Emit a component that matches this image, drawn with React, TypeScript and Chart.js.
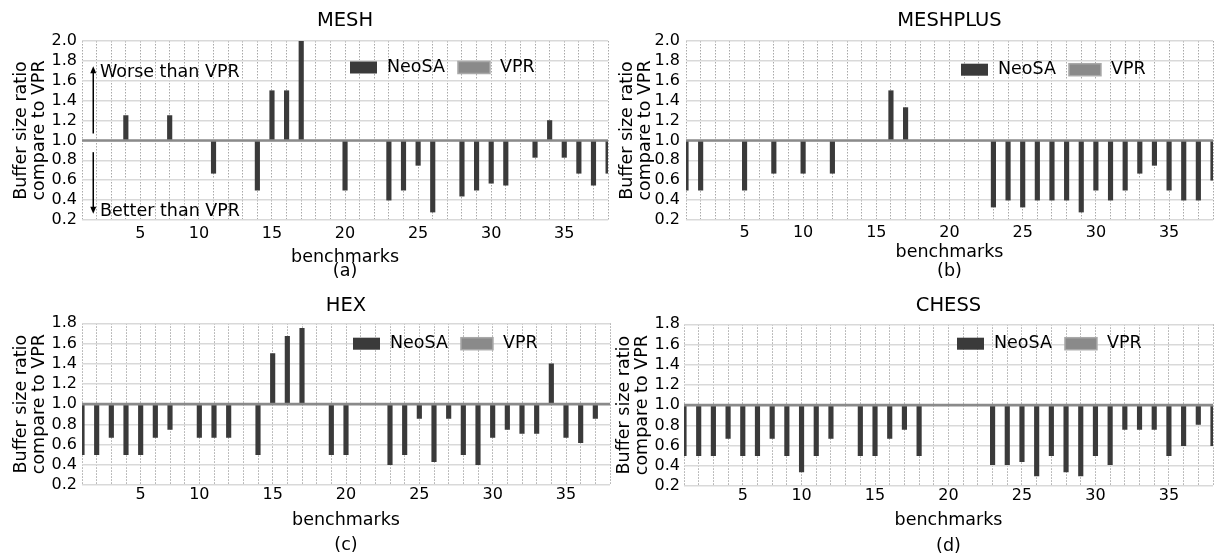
import React, { useEffect, useRef } from 'react';
import { Chart, registerables } from 'chart.js';

Chart.register(...registerables);

const FONT = "'DejaVu Sans', 'Liberation Sans', sans-serif";

// ---------- data ----------
const benchmarkSlots = [2, 3, 4, 5, 6, 7, 8, 9, 10, 11, 12, 13, 14, 15, 16, 17, 18, 19, 20, 21, 22, 23, 24, 25, 26, 27, 28, 29, 30, 31, 32, 33, 34, 35, 36, 37, 38];
const xTickSlots = [6, 10, 15, 20, 25, 30, 35];
const xTickLabels = ['5', '10', '15', '20', '25', '30', '35'];
const yTicksUpper = [0.2, 0.4, 0.6, 0.8, 1.0, 1.2, 1.4, 1.6, 1.8, 2.0];
const yTicksLower = [0.2, 0.4, 0.6, 0.8, 1.0, 1.2, 1.4, 1.6, 1.8];

const vprRatio = [1, 1, 1, 1, 1, 1, 1, 1, 1, 1, 1, 1, 1, 1, 1, 1, 1, 1, 1, 1, 1, 1, 1, 1, 1, 1, 1, 1, 1, 1, 1, 1, 1, 1, 1, 1, 1];

const meshNeoSA = [null, null, null, 1.25, null, null, 1.25, null, null, 0.67, null, null, 0.5, 1.5, 1.5, 2.0, null, null, 0.5, null, null, 0.4, 0.5, 0.75, 0.28, null, 0.44, 0.5, 0.57, 0.55, null, 0.83, 1.2, 0.83, 0.67, 0.55, 0.67];
const meshplusNeoSA = [0.5, 0.5, null, null, 0.5, null, 0.67, null, 0.67, null, 0.67, null, null, null, 1.5, 1.33, null, null, null, null, null, 0.33, 0.4, 0.33, 0.4, 0.4, 0.4, 0.28, 0.5, 0.4, 0.5, 0.67, 0.75, 0.5, 0.4, 0.4, 0.6];
const hexNeoSA = [0.5, 0.5, 0.67, 0.5, 0.5, 0.67, 0.75, null, 0.67, 0.67, 0.67, null, 0.5, 1.5, 1.67, 1.75, null, 0.5, 0.5, null, null, 0.4, 0.5, 0.86, 0.43, 0.86, 0.5, 0.4, 0.67, 0.75, 0.71, 0.71, 1.4, 0.67, 0.62, 0.86, null];
const chessNeoSA = [0.5, 0.5, 0.5, 0.67, 0.5, 0.5, 0.67, 0.5, 0.34, 0.5, 0.67, null, 0.5, 0.5, 0.67, 0.76, 0.5, null, null, null, null, 0.41, 0.41, 0.44, 0.3, 0.5, 0.34, 0.3, 0.5, 0.41, 0.76, 0.76, 0.76, 0.5, 0.6, 0.81, 0.6];

const seriesNames = ['NeoSA', 'VPR'];
const yAxisTitle = ['Buffer size ratio', 'compare to VPR'];
const xAxisTitle = 'benchmarks';

// ---------- layout / style ----------
type Layout = {
  left: number; top: number; width: number; height: number;
  yAxisWidth: number; padRight: number; areaTop: number; areaBottom: number;
  titleY: number; tickY: number; xTitleY: number; subY: number;
  yTitleX: number; yTickPad: number; legendDx: number; legendDy: number;
};

type Note = { x: number; from: number; to: number; textX: number; textY: number; text: string };

type PanelSpec = {
  title: string; tag: string; values: (number | null)[]; yTicks: number[]; layout: Layout; notes: Note[];
};

const panels: PanelSpec[] = [
  {
    title: 'MESH', tag: '(a)', values: meshNeoSA, yTicks: yTicksUpper,
    layout: { left: 0, top: 0, width: 612, height: 290, yAxisWidth: 82, padRight: 2, areaTop: 41, areaBottom: 220, titleY: 20.7, tickY: 233.5, xTitleY: 257.3, subY: 271.6, yTitleX: 21.2, yTickPad: 5, legendDx: 268, legendDy: 26.5 },
    notes: [
      { x: 2.77, from: 1.07, to: 1.747, textX: 3.23, textY: 1.682, text: 'Worse than VPR' },
      { x: 2.77, from: 0.882, to: 0.262, textX: 3.23, textY: 0.283, text: 'Better than VPR' },
    ],
  },
  {
    title: 'MESHPLUS', tag: '(b)', values: meshplusNeoSA, yTicks: yTicksUpper,
    layout: { left: 604, top: 0, width: 613, height: 290, yAxisWidth: 82, padRight: 4, areaTop: 41, areaBottom: 220, titleY: 20.7, tickY: 232.8, xTitleY: 252.3, subY: 271.6, yTitleX: 23.6, yTickPad: 6, legendDx: 275, legendDy: 28.7 },
    notes: [],
  },
  {
    title: 'HEX', tag: '(c)', values: hexNeoSA, yTicks: yTicksLower,
    layout: { left: 0, top: 280, width: 612, height: 278, yAxisWidth: 82, padRight: 2, areaTop: 43.3, areaBottom: 205, titleY: 25.7, tickY: 215.2, xTitleY: 240, subY: 265, yTitleX: 21.2, yTickPad: 5, legendDx: 271, legendDy: 20.4 },
    notes: [],
  },
  {
    title: 'CHESS', tag: '(d)', values: chessNeoSA, yTicks: yTicksLower,
    layout: { left: 602, top: 280, width: 615, height: 278, yAxisWidth: 82, padRight: 4, areaTop: 44.3, areaBottom: 206, titleY: 25.7, tickY: 216.2, xTitleY: 240.6, subY: 266.6, yTitleX: 22, yTickPad: 4, legendDx: 273, legendDy: 19.4 },
    notes: [],
  },
];

const NEOSA_COLOR = '#3a3a3a';
const VPR_COLOR = '#8a8a8a';
const TICK_SIZE = 16;
const LABEL_SIZE = 17.5;
const TITLE_SIZE = 19.5;

const decorPlugin = {
  id: 'panelDecor',
  afterDatasetsDraw(chart: any, _args: any, opts: any) {
    const { ctx, chartArea, scales } = chart;
    ctx.save();
    ctx.font = `${opts.fontSize}px ${FONT}`;
    ctx.textBaseline = 'middle';
    ctx.textAlign = 'left';
    let x = chartArea.left + opts.legendDx;
    const cy = chartArea.top + opts.legendDy;
    chart.data.datasets.forEach((ds: any, i: number) => {
      const w = opts.boxWidths[i];
      const h = opts.boxHeight;
      ctx.fillStyle = ds.legendFill;
      ctx.fillRect(x, cy - h / 2, w, h);
      if (ds.legendEdge) {
        ctx.strokeStyle = ds.legendEdge;
        ctx.lineWidth = 1.5;
        ctx.strokeRect(x, cy - h / 2, w, h);
      }
      x += w + opts.textGap;
      ctx.fillStyle = '#000';
      ctx.fillText(ds.label, x, cy);
      x += ctx.measureText(ds.label).width + opts.itemGap;
    });
    (opts.notes || []).forEach((n: Note) => {
      const px = scales.x.getPixelForValue(n.x);
      const y0 = scales.y.getPixelForValue(n.from);
      const y1 = scales.y.getPixelForValue(n.to);
      const dir = Math.sign(y1 - y0);
      ctx.strokeStyle = '#000';
      ctx.fillStyle = '#000';
      ctx.lineWidth = 1.5;
      ctx.beginPath();
      ctx.moveTo(px, y0);
      ctx.lineTo(px, y1 - dir * 5);
      ctx.stroke();
      ctx.beginPath();
      ctx.moveTo(px, y1);
      ctx.lineTo(px - 3, y1 - dir * 7);
      ctx.lineTo(px + 3, y1 - dir * 7);
      ctx.closePath();
      ctx.fill();
      ctx.fillText(n.text, scales.x.getPixelForValue(n.textX), scales.y.getPixelForValue(n.textY));
    });
    ctx.restore();
  },
};

function Panel({ spec }: { spec: PanelSpec }) {
  const ref = useRef<HTMLCanvasElement | null>(null);
  useEffect(() => {
    if (!ref.current) return;
    const L = spec.layout;
    const tickLH = TICK_SIZE * 1.2;
    const labelLH = LABEL_SIZE * 1.2;
    const titleLH = TITLE_SIZE * 1.2;
    const xAxisHeight = L.xTitleY + labelLH / 2 - L.areaBottom;
    const axisBottom = L.areaBottom + xAxisHeight;
    const subPadTop = L.subY - axisBottom - labelLH / 2;
    const subPadBottom = L.height - axisBottom - labelLH - subPadTop;
    const titlePadTop = L.titleY - titleLH / 2;
    const titlePadBottom = L.areaTop - titlePadTop - titleLH;
    const yTitleLH = 18;

    const barPoints = benchmarkSlots
      .map((b, i) => (spec.values[i] == null ? null : { x: b, y: [vprRatio[i], spec.values[i] as number] }))
      .filter((p) => p !== null);
    const vprPoints = benchmarkSlots.map((b, i) => ({ x: b, y: vprRatio[i] }));

    const chart = new Chart(ref.current, {
      type: 'bar',
      data: {
        datasets: [
          {
            type: 'bar',
            label: seriesNames[0],
            data: barPoints as any,
            backgroundColor: NEOSA_COLOR,
            borderWidth: 0,
            barThickness: 4.5,
            order: 1,
            clip: 0,
            legendFill: NEOSA_COLOR,
          } as any,
          {
            type: 'line',
            label: seriesNames[1],
            data: vprPoints as any,
            borderColor: VPR_COLOR,
            backgroundColor: VPR_COLOR,
            borderWidth: 2.6,
            pointRadius: 0,
            order: 0,
            clip: 0,
            legendFill: VPR_COLOR,
            legendEdge: '#a9a9a9',
          } as any,
        ],
      },
      options: {
        responsive: false,
        animation: false,
        events: [],
        devicePixelRatio: 1,
        layout: { padding: { left: 0, top: 0, right: L.padRight, bottom: 0 } },
        scales: {
          x: {
            type: 'linear',
            min: benchmarkSlots[0],
            max: benchmarkSlots[benchmarkSlots.length - 1],
            offset: false,
            afterBuildTicks: (s: any) => {
              s.ticks = benchmarkSlots.map((v) => ({ value: v }));
            },
            afterFit: (s: any) => {
              s.height = xAxisHeight;
            },
            ticks: {
              autoSkip: false,
              maxRotation: 0,
              minRotation: 0,
              padding: L.tickY - L.areaBottom - tickLH / 2,
              color: '#000',
              font: { family: FONT, size: TICK_SIZE, lineHeight: 1.2 },
              callback: (v: any) => {
                const k = xTickSlots.indexOf(Number(v));
                return k >= 0 ? xTickLabels[k] : '';
              },
            },
            grid: { color: '#a8a8a8', lineWidth: 1, drawTicks: false, offset: false },
            border: { display: false, dash: [1.5, 1.5] },
            title: {
              display: true,
              text: xAxisTitle,
              color: '#000',
              font: { family: FONT, size: LABEL_SIZE, lineHeight: 1.2 },
              padding: { top: 0, bottom: 0 },
            },
          },
          y: {
            type: 'linear',
            min: spec.yTicks[0],
            max: spec.yTicks[spec.yTicks.length - 1],
            afterBuildTicks: (s: any) => {
              s.ticks = spec.yTicks.map((v) => ({ value: v }));
            },
            afterFit: (s: any) => {
              s.width = L.yAxisWidth;
            },
            ticks: {
              autoSkip: false,
              padding: L.yTickPad,
              color: '#000',
              font: { family: FONT, size: TICK_SIZE, lineHeight: 1.2 },
              callback: (v: any) => Number(v).toFixed(1),
            },
            grid: { color: '#d9d9d9', lineWidth: 1.5, drawTicks: false },
            border: { display: false },
            title: {
              display: true,
              text: yAxisTitle,
              color: '#000',
              font: { family: FONT, size: LABEL_SIZE, lineHeight: yTitleLH / LABEL_SIZE },
              padding: { top: L.yTitleX - yTitleLH / 2, bottom: 0 },
            },
          },
        },
        plugins: {
          legend: { display: false },
          tooltip: { enabled: false },
          title: {
            display: true,
            text: spec.title,
            fullSize: false,
            color: '#000',
            font: { family: FONT, size: TITLE_SIZE, lineHeight: 1.2, weight: 'normal' },
            padding: { top: titlePadTop, bottom: titlePadBottom },
          },
          subtitle: {
            display: true,
            position: 'bottom',
            fullSize: false,
            text: spec.tag,
            color: '#000',
            font: { family: FONT, size: LABEL_SIZE, lineHeight: 1.2, weight: 'normal' },
            padding: { top: subPadTop, bottom: subPadBottom },
          },
          panelDecor: {
            fontSize: LABEL_SIZE,
            legendDx: L.legendDx,
            legendDy: L.legendDy,
            boxWidths: [27, 32],
            boxHeight: 12,
            textGap: 10,
            itemGap: 13,
            notes: spec.notes,
          },
        } as any,
      },
      plugins: [decorPlugin],
    } as any);
    return () => chart.destroy();
  }, [spec]);

  const L = spec.layout;
  return (
    <canvas
      ref={ref}
      width={L.width}
      height={L.height}
      style={{ position: 'absolute', left: L.left, top: L.top, width: L.width, height: L.height }}
    />
  );
}

export default function App() {
  useEffect(() => {
    document.body.style.margin = '0';
    document.body.style.background = '#fff';
  }, []);
  return (
    <div style={{ position: 'relative', width: 1217, height: 558, overflow: 'hidden', background: '#fff' }}>
      {panels.map((p) => (
        <Panel key={p.title} spec={p} />
      ))}
    </div>
  );
}
